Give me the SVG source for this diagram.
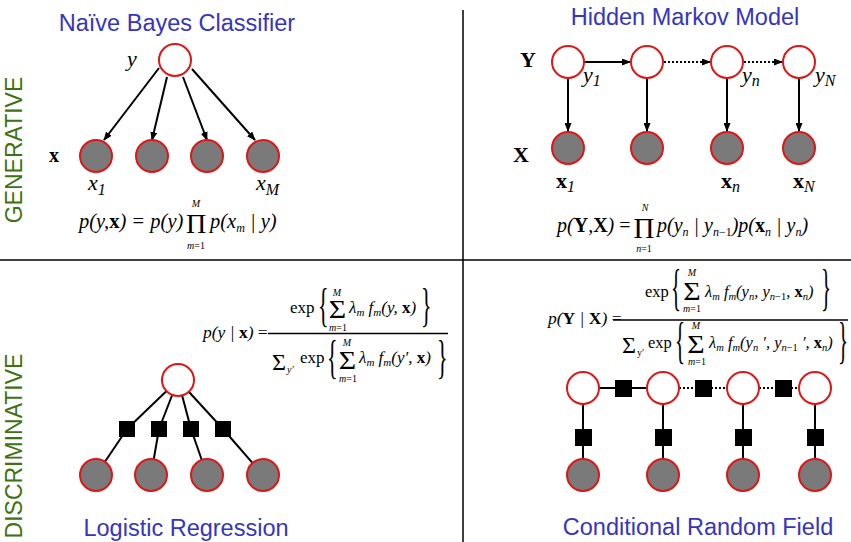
<svg xmlns="http://www.w3.org/2000/svg" width="851" height="542" viewBox="0 0 851 542">
<style>
.t{font-family:"Liberation Sans",Arial,sans-serif;font-size:23.5px;fill:#3535c0;text-anchor:middle}
.side{font-family:"Liberation Sans",Arial,sans-serif;font-size:23px;fill:#3f7212;text-anchor:middle}
.ms{font-family:"Liberation Serif","DejaVu Serif",serif;fill:#000}
.i{font-style:italic}
.b{font-weight:bold;font-style:normal}
.u{font-style:normal}
.c{text-anchor:middle}
.obs{fill:#7a7a7a;stroke:#e01515;stroke-width:2}
.hid{fill:#fff;stroke:#e01515;stroke-width:2}
.fac{fill:#000}
.edge{stroke:#000;stroke-width:2;fill:none}
.dot{stroke-dasharray:2 2}
.div{stroke:#000;stroke-width:1.5}
.bar{stroke:#000;stroke-width:1.3}
</style>
<defs>
<marker id="ah" markerUnits="userSpaceOnUse" markerWidth="9" markerHeight="7" refX="8" refY="3.5" orient="auto">
<path d="M0,0 L9,3.5 L0,7 z" fill="#000"/>
</marker>
</defs>
<rect width="851" height="542" fill="#fff"/>
<g id="dividers">
<line class="div" x1="463" y1="10" x2="463" y2="542"/>
<line class="div" x1="0" y1="260" x2="851" y2="260"/>
</g>
<g id="labels">
<text class="t" x="177" y="31">Naïve Bayes Classifier</text>
<text class="t" x="685" y="25">Hidden Markov Model</text>
<text class="t" x="186" y="536">Logistic Regression</text>
<text class="t" x="698" y="535">Conditional Random Field</text>
<text class="side" transform="translate(22,150) rotate(-90)">GENERATIVE</text>
<text class="side" transform="translate(22,446) rotate(-90)">DISCRIMINATIVE</text>
</g>
<g id="connectors">
<line class="edge" x1="159" y1="68" x2="104" y2="140" marker-end="url(#ah)"/>
<line class="edge" x1="167" y1="77" x2="152" y2="140" marker-end="url(#ah)"/>
<line class="edge" x1="183" y1="77" x2="207" y2="140" marker-end="url(#ah)"/>
<line class="edge" x1="192" y1="69" x2="255" y2="140" marker-end="url(#ah)"/>
<line class="edge" x1="584" y1="62" x2="630" y2="62" marker-end="url(#ah)"/>
<line class="edge dot" x1="664" y1="62" x2="710" y2="62" marker-end="url(#ah)"/>
<line class="edge dot" x1="744" y1="62" x2="782" y2="62" marker-end="url(#ah)"/>
<line class="edge" x1="568" y1="78" x2="568" y2="131" marker-end="url(#ah)"/>
<line class="edge" x1="647" y1="78" x2="647" y2="131" marker-end="url(#ah)"/>
<line class="edge" x1="727" y1="78" x2="727" y2="131" marker-end="url(#ah)"/>
<line class="edge" x1="799" y1="78" x2="799" y2="131" marker-end="url(#ah)"/>
<line class="edge" x1="178" y1="380" x2="127" y2="429"/>
<line class="edge" x1="178" y1="380" x2="159" y2="429"/>
<line class="edge" x1="178" y1="380" x2="191" y2="429"/>
<line class="edge" x1="178" y1="380" x2="223" y2="429"/>
<line class="edge" x1="127" y1="429" x2="96" y2="475"/>
<line class="edge" x1="159" y1="429" x2="151" y2="475"/>
<line class="edge" x1="191" y1="429" x2="207" y2="475"/>
<line class="edge" x1="223" y1="429" x2="263" y2="475"/>
<line class="edge" x1="583" y1="388" x2="663" y2="388"/>
<line class="edge dot" x1="663" y1="388" x2="743" y2="388"/>
<line class="edge dot" x1="743" y1="388" x2="815" y2="388"/>
<line class="edge" x1="583" y1="388" x2="583" y2="475"/>
<line class="edge" x1="663" y1="388" x2="663" y2="475"/>
<line class="edge" x1="743" y1="388" x2="743" y2="475"/>
<line class="edge" x1="815" y1="388" x2="815" y2="475"/>
</g>
<g id="nb-y"><circle class="hid" cx="175" cy="60" r="16"/></g>
<g id="nb-x1"><circle class="obs" cx="96" cy="156" r="16"/></g>
<g id="nb-x2"><circle class="obs" cx="152" cy="156" r="16"/></g>
<g id="nb-x3"><circle class="obs" cx="207" cy="156" r="16"/></g>
<g id="nb-xM"><circle class="obs" cx="263" cy="156" r="16"/></g>
<g id="hmm-y1"><circle class="hid" cx="568" cy="62" r="16"/></g>
<g id="hmm-y2"><circle class="hid" cx="647" cy="62" r="16"/></g>
<g id="hmm-yn"><circle class="hid" cx="727" cy="62" r="16"/></g>
<g id="hmm-yN"><circle class="hid" cx="799" cy="62" r="16"/></g>
<g id="hmm-x1"><circle class="obs" cx="568" cy="148" r="16"/></g>
<g id="hmm-x2"><circle class="obs" cx="647" cy="148" r="16"/></g>
<g id="hmm-xn"><circle class="obs" cx="727" cy="148" r="16"/></g>
<g id="hmm-xN"><circle class="obs" cx="799" cy="148" r="16"/></g>
<g id="lr-y"><circle class="hid" cx="178" cy="380" r="16"/></g>
<g id="lr-f1"><rect class="fac" x="119" y="421" width="16" height="16"/></g>
<g id="lr-f2"><rect class="fac" x="151" y="421" width="16" height="16"/></g>
<g id="lr-f3"><rect class="fac" x="183" y="421" width="16" height="16"/></g>
<g id="lr-f4"><rect class="fac" x="215" y="421" width="16" height="16"/></g>
<g id="lr-x1"><circle class="obs" cx="96" cy="475" r="16"/></g>
<g id="lr-x2"><circle class="obs" cx="151" cy="475" r="16"/></g>
<g id="lr-x3"><circle class="obs" cx="207" cy="475" r="16"/></g>
<g id="lr-x4"><circle class="obs" cx="263" cy="475" r="16"/></g>
<g id="crf-y1"><circle class="hid" cx="583" cy="388" r="16"/></g>
<g id="crf-y2"><circle class="hid" cx="663" cy="388" r="16"/></g>
<g id="crf-yn"><circle class="hid" cx="743" cy="388" r="16"/></g>
<g id="crf-yN"><circle class="hid" cx="815" cy="388" r="16"/></g>
<g id="crf-fh1"><rect class="fac" x="615" y="380" width="17" height="17"/></g>
<g id="crf-fh2"><rect class="fac" x="695" y="380" width="17" height="17"/></g>
<g id="crf-fh3"><rect class="fac" x="775" y="380" width="17" height="17"/></g>
<g id="crf-fv1"><rect class="fac" x="575" y="429" width="17" height="17"/></g>
<g id="crf-fv2"><rect class="fac" x="655" y="429" width="17" height="17"/></g>
<g id="crf-fv3"><rect class="fac" x="735" y="429" width="17" height="17"/></g>
<g id="crf-fv4"><rect class="fac" x="807" y="429" width="17" height="17"/></g>
<g id="crf-x1"><circle class="obs" cx="583" cy="475" r="16"/></g>
<g id="crf-x2"><circle class="obs" cx="663" cy="475" r="16"/></g>
<g id="crf-xn"><circle class="obs" cx="743" cy="475" r="16"/></g>
<g id="crf-xN"><circle class="obs" cx="815" cy="475" r="16"/></g>
<g id="var-labels">
<text class="ms i" x="127" y="66" font-size="22">y</text>
<text class="ms b" x="49" y="162" font-size="20">x</text>
<text class="ms i" x="88" y="190" font-size="22">x<tspan font-size="16" dy="5">1</tspan></text>
<text class="ms i" x="256" y="190" font-size="22">x<tspan font-size="16" dy="5">M</tspan></text>
<text class="ms b" x="520" y="67" font-size="22">Y</text>
<text class="ms b" x="513" y="162" font-size="22">X</text>
<text class="ms i" x="583" y="82" font-size="22">y<tspan font-size="16" dy="4">1</tspan></text>
<text class="ms i" x="742" y="82" font-size="22">y<tspan font-size="16" dy="4">n</tspan></text>
<text class="ms i" x="815" y="82" font-size="22">y<tspan font-size="16" dy="4">N</tspan></text>
<text class="ms b" x="556" y="188" font-size="22">x<tspan class="i" font-weight="normal" font-size="16" dy="4">1</tspan></text>
<text class="ms b" x="721" y="188" font-size="22">x<tspan class="i" font-weight="normal" font-size="16" dy="4">n</tspan></text>
<text class="ms b" x="793" y="188" font-size="22">x<tspan class="i" font-weight="normal" font-size="16" dy="4">N</tspan></text>
</g>
<g id="eq-nb">
<text class="ms i" x="79" y="228" font-size="20.5">p(y,<tspan class="b">x</tspan>) = p(y)</text>
<text class="ms u c" x="196" y="233" font-size="28">Π</text>
<text class="ms i c" x="196" y="207" font-size="10">M</text>
<text class="ms c" x="196" y="249" font-size="10"><tspan class="i">m</tspan>=1</text>
<text class="ms i" x="210" y="228" font-size="20.5">p(x<tspan font-size="12" dy="4">m</tspan><tspan dy="-4"> | y)</tspan></text>
</g>
<g id="eq-hmm">
<text class="ms i" x="557" y="232" font-size="20">p(<tspan class="b">Y</tspan>,<tspan class="b">X</tspan>) <tspan class="u">=</tspan></text>
<text class="ms u c" x="644" y="238" font-size="29">Π</text>
<text class="ms i c" x="645" y="211" font-size="10">N</text>
<text class="ms c" x="644" y="252" font-size="10"><tspan class="i">n</tspan>=1</text>
<text class="ms i" x="657" y="232" font-size="20">p(y<tspan font-size="12" dy="4">n</tspan><tspan dy="-4"> | y</tspan><tspan font-size="12" dy="4">n</tspan><tspan font-size="12" class="u">−1</tspan><tspan dy="-4">)p(</tspan><tspan class="b">x</tspan><tspan font-size="12" dy="4">n</tspan><tspan dy="-4"> | y</tspan><tspan font-size="12" dy="4">n</tspan><tspan dy="-4">)</tspan></text>
</g>
<g id="eq-lr">
<text class="ms i" x="203" y="338" font-size="17.5">p(y | <tspan class="b">x</tspan>) <tspan class="u">=</tspan></text>
<line class="bar" x1="268" y1="333.5" x2="448" y2="333.5"/>
<text class="ms u" x="290" y="313" font-size="17">exp</text>
<text class="ms u" transform="translate(318,321) scale(1,2.1)" font-size="22">{</text>
<text class="ms u c" transform="translate(337.5,318) scale(1.15,1)" font-size="26">Σ</text>
<text class="ms i c" x="337" y="296" font-size="10">M</text>
<text class="ms c" x="338" y="331" font-size="10"><tspan class="i">m</tspan>=1</text>
<text class="ms i" x="349" y="313" font-size="17">λ<tspan font-size="11" dy="3">m</tspan><tspan dy="-3"> f</tspan><tspan font-size="11" dy="3">m</tspan><tspan dy="-3">(y, </tspan><tspan class="b">x</tspan>)</text>
<text class="ms u" transform="translate(421,321) scale(1,2.1)" font-size="22">}</text>
<text class="ms u" x="272" y="370" font-size="24">Σ</text>
<text class="ms i" x="287" y="373" font-size="10">y′</text>
<text class="ms u" x="300" y="363" font-size="17">exp</text>
<text class="ms u" transform="translate(327,373) scale(1,2.1)" font-size="22">{</text>
<text class="ms u c" transform="translate(347.5,369) scale(1.15,1)" font-size="26">Σ</text>
<text class="ms i c" x="347" y="346" font-size="10">M</text>
<text class="ms c" x="348" y="382" font-size="10"><tspan class="i">m</tspan>=1</text>
<text class="ms i" x="359" y="363" font-size="17">λ<tspan font-size="11" dy="3">m</tspan><tspan dy="-3"> f</tspan><tspan font-size="11" dy="3">m</tspan><tspan dy="-3">(y′, </tspan><tspan class="b">x</tspan>)</text>
<text class="ms u" transform="translate(437,373) scale(1,2.1)" font-size="22">}</text>
</g>
<g id="eq-crf">
<text class="ms i" x="548" y="324" font-size="17.5">p(<tspan class="b">Y</tspan> | <tspan class="b">X</tspan>) <tspan class="u">=</tspan></text>
<line class="bar" x1="613" y1="320" x2="848" y2="320"/>
<text class="ms u" x="645" y="297" font-size="16.5">exp</text>
<text class="ms u" transform="translate(671,304) scale(1,2.4)" font-size="21">{</text>
<text class="ms u c" transform="translate(692,300) scale(1.15,1)" font-size="26">Σ</text>
<text class="ms i c" x="692" y="276" font-size="10">M</text>
<text class="ms c" x="692" y="312" font-size="10"><tspan class="i">m</tspan>=1</text>
<text class="ms i" x="705" y="297" font-size="16.5">λ<tspan font-size="10.5" dy="3">m</tspan><tspan dy="-3"> f</tspan><tspan font-size="10.5" dy="3">m</tspan><tspan dy="-3">(y</tspan><tspan font-size="10.5" dy="3">n</tspan><tspan dy="-3">, y</tspan><tspan font-size="10.5" dy="3">n</tspan><tspan font-size="10.5" class="u">−1</tspan><tspan dy="-3">, </tspan><tspan class="b">x</tspan><tspan font-size="10.5" dy="3">n</tspan><tspan dy="-3">)</tspan></text>
<text class="ms u" transform="translate(821,304) scale(1,2.4)" font-size="21">}</text>
<text class="ms u" x="622" y="353" font-size="24">Σ</text>
<text class="ms" x="637" y="356" font-size="10">y′</text>
<text class="ms u" x="648" y="348" font-size="16.5">exp</text>
<text class="ms u" transform="translate(675,357) scale(1,2.4)" font-size="21">{</text>
<text class="ms u c" transform="translate(696,353) scale(1.15,1)" font-size="26">Σ</text>
<text class="ms i c" x="696" y="329" font-size="10">M</text>
<text class="ms c" x="697" y="365" font-size="10"><tspan class="i">m</tspan>=1</text>
<text class="ms i" x="709" y="348" font-size="16.5">λ<tspan font-size="10.5" dy="3">m</tspan><tspan dy="-3"> f</tspan><tspan font-size="10.5" dy="3">m</tspan><tspan dy="-3">(y</tspan><tspan font-size="10.5" dy="3">n</tspan><tspan dy="-3"> ′, y</tspan><tspan font-size="10.5" dy="3">n</tspan><tspan font-size="10.5" class="u">−1</tspan><tspan dy="-3"> ′, </tspan><tspan class="b">x</tspan><tspan font-size="10.5" dy="3">n</tspan><tspan dy="-3">)</tspan></text>
<text class="ms u" transform="translate(838,357) scale(1,2.4)" font-size="21">}</text>
</g>
</svg>
